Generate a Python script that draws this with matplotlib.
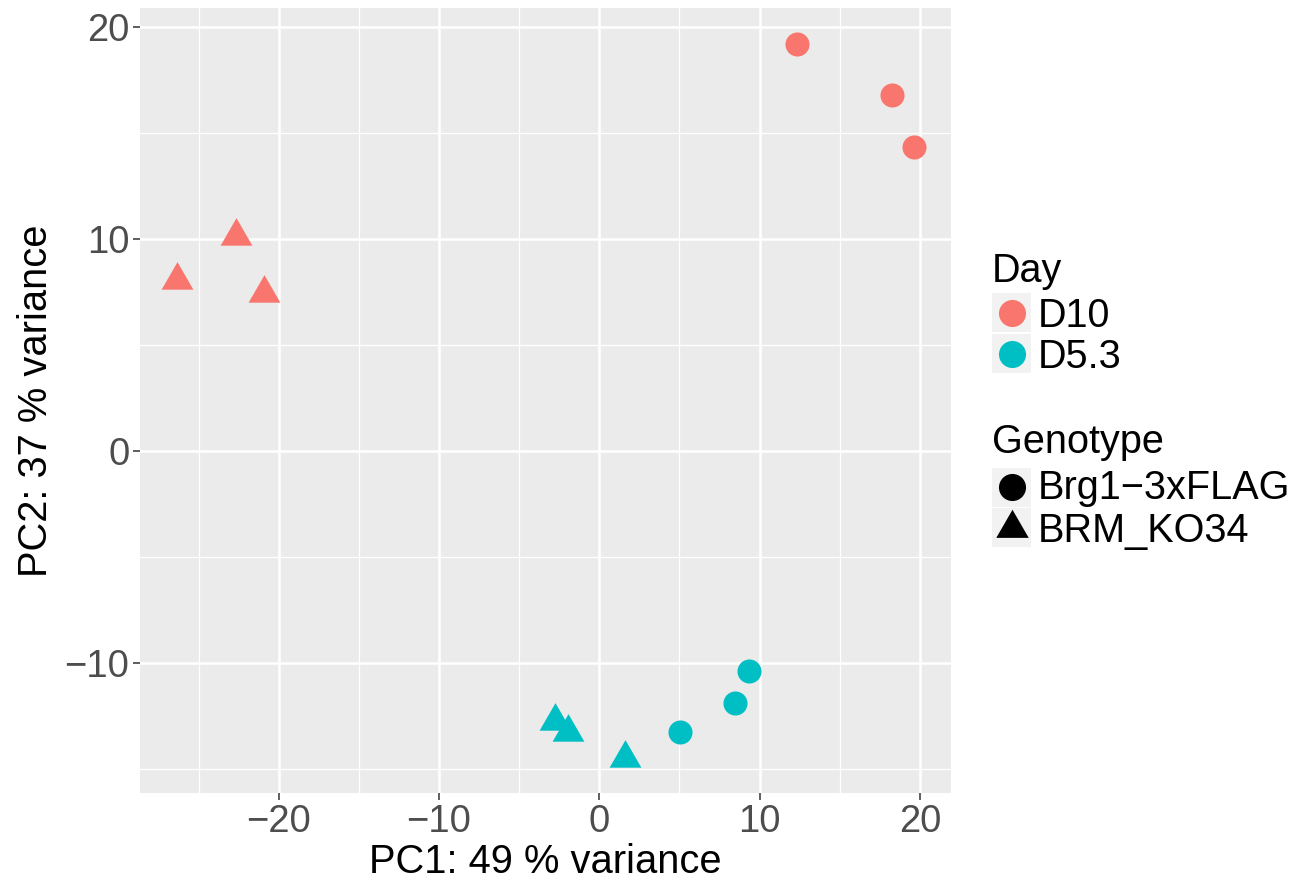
import matplotlib
matplotlib.use("Agg")
import matplotlib.pyplot as plt
from matplotlib.patches import Rectangle
from matplotlib.lines import Line2D

# PCA coordinates
d10_brg1_x = [12.35, 18.28, 19.61]
d10_brg1_y = [19.21, 16.79, 14.37]
d10_brm_x = [-22.64, -26.33, -20.94]
d10_brm_y = [10.16, 8.07, 7.48]
d53_brg1_x = [9.36, 8.47, 5.02]
d53_brg1_y = [-10.38, -11.87, -13.24]
d53_brm_x = [-2.78, -1.93, 1.62]
d53_brm_y = [-12.71, -13.24, -14.45]

days = ["D10", "D5.3"]
day_colors = ["#F8766D", "#00BFC4"]
genotypes = ["Brg1\u22123xFLAG", "BRM_KO34"]

W, H = 1297, 882
plt.rcParams["font.family"] = ["Liberation Sans", "DejaVu Sans"]

# equilateral triangle centred on its centroid, like R's pch 17
tri = [(0, 1), (-0.866, -0.5), (0.866, -0.5)]
shapes = ["o", tri]

fig = plt.figure(figsize=(W / 100, H / 100), dpi=100)
ax = fig.add_axes([140.4 / W, 1 - 793.3 / H, (950.5 - 140.4) / W, (793.3 - 8.4) / H])
ax.set_facecolor("#EBEBEB")
for s in ax.spines.values():
    s.set_visible(False)

ax.scatter(d10_brg1_x, d10_brg1_y, s=300, marker=shapes[0], color=day_colors[0], lw=0, zorder=3)
ax.scatter(d10_brm_x, d10_brm_y, s=700, marker=shapes[1], color=day_colors[0], lw=0, zorder=3)
ax.scatter(d53_brg1_x, d53_brg1_y, s=300, marker=shapes[0], color=day_colors[1], lw=0, zorder=3)
ax.scatter(d53_brm_x, d53_brm_y, s=700, marker=shapes[1], color=day_colors[1], lw=0, zorder=3)

# ggplot-style 5% expansion
all_x = d10_brg1_x + d10_brm_x + d53_brg1_x + d53_brm_x
all_y = d10_brg1_y + d10_brm_y + d53_brg1_y + d53_brm_y
dx = (max(all_x) - min(all_x)) * 0.05
dy = (max(all_y) - min(all_y)) * 0.05
ax.set_xlim(min(all_x) - dx, max(all_x) + dx)
ax.set_ylim(min(all_y) - dy, max(all_y) + dy)

ax.set_xticks([-20, -10, 0, 10, 20])
ax.set_xticklabels(["\u221220", "\u221210", "0", "10", "20"])
ax.set_yticks([-10, 0, 10, 20])
ax.set_yticklabels(["\u221210", "0", "10", "20"])
ax.set_xticks([-25, -15, -5, 5, 15], minor=True)
ax.set_yticks([-15, -5, 5, 15], minor=True)
ax.grid(which="major", color="white", lw=1.8)
ax.grid(which="minor", color="white", lw=0.9)
ax.set_axisbelow(True)
ax.tick_params(which="major", length=5, width=1.1, color="#333333",
               labelsize=27.5, labelcolor="#4D4D4D", pad=3)
ax.tick_params(which="minor", length=0)

fig.text(545.5 / W, 1 - 873 / H, "PC1: 49 % variance", fontsize=28.7,
         ha="center", va="baseline")
fig.text(46.7 / W, 1 - 400.8 / H, "PC2: 37 % variance", fontsize=28.7,
         ha="center", va="baseline", rotation=90, rotation_mode="anchor")


def fx(x):
    return x / W


def fy(y):
    return 1 - y / H


def key(y_top, y_bot, marker, color, ms, label, baseline):
    fig.add_artist(Rectangle((fx(992), fy(y_bot)), (1031 - 992) / W, (y_bot - y_top) / H,
                             transform=fig.transFigure, facecolor="#F2F2F2", edgecolor="none"))
    fig.add_artist(Line2D([fx(1011.5)], [fy((y_top + y_bot) / 2)], marker=marker, ms=ms,
                          color=color, mew=0, ls="", transform=fig.transFigure))
    fig.text(fx(1038), fy(baseline), label, fontsize=28.5, va="baseline")


fig.text(fx(992), fy(281.7), "Day", fontsize=28.5, va="baseline")
key(293.3, 331.7, "o", day_colors[0], 19.5, days[0], 327.3)
key(334.3, 372.7, "o", day_colors[1], 19.5, days[1], 368.3)

fig.text(fx(992), fy(453.3), "Genotype", fontsize=28.5, va="baseline")
key(467.7, 506.7, "o", "black", 19.5, genotypes[0], 499.3)
key(508.3, 546.7, tri, "black", 27, genotypes[1], 541.7)

fig.savefig("out.png", dpi=100)
